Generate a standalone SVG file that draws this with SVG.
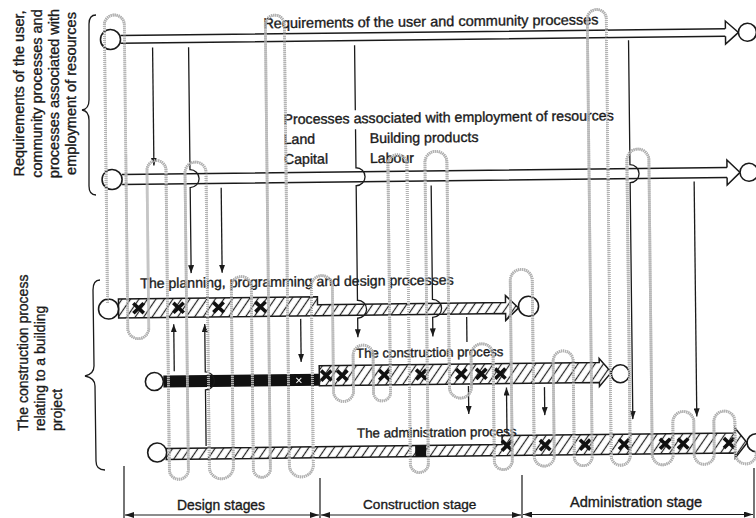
<svg xmlns="http://www.w3.org/2000/svg" width="756" height="518" viewBox="0 0 756 518">
<defs>
<style>
text{font-family:"Liberation Sans",Arial,sans-serif;fill:#1a1a1a;stroke:#1a1a1a;stroke-width:0.35}
.bar{stroke:#1a1a1a;stroke-width:1.5;fill:url(#hatch)}
.hol{stroke:#1a1a1a;stroke-width:1.5;fill:#fff}
.bl{stroke:#1a1a1a;stroke-width:1.5;fill:none}
.circ{stroke:#1a1a1a;stroke-width:1.6;fill:#fff}
.arr{stroke:#1a1a1a;stroke-width:1.3;fill:none}
.loopo{stroke:#b2b2b2;stroke-width:2.8;fill:none;stroke-dasharray:1.2 0.8}
.loopi{stroke:#ececec;stroke-width:0.9;fill:none}
.xm{stroke:#111;stroke-width:3.6;fill:none}
.dim{stroke:#1a1a1a;stroke-width:1.2;fill:none}
.brace{stroke:#1a1a1a;stroke-width:1.3;fill:none}
</style>
<pattern id="hatch" width="7" height="7" patternUnits="userSpaceOnUse" patternTransform="rotate(35)">
<rect width="7" height="7" fill="#fff"/>
<line x1="3.5" y1="0" x2="3.5" y2="7" stroke="#222" stroke-width="1.2"/>
</pattern>
<marker id="ah" markerWidth="8" markerHeight="6" refX="8" refY="3" orient="auto" markerUnits="userSpaceOnUse"><path d="M0,0 L8,3 L0,6 Z" fill="#1a1a1a"/></marker>
<marker id="dh" markerWidth="9" markerHeight="6" refX="9" refY="3" orient="auto-start-reverse" markerUnits="userSpaceOnUse"><path d="M0,0 L9,3 L0,6 Z" fill="#1a1a1a"/></marker>
<path id="xg" class="xm" d="M-5.2,-5 L5.2,5 M5.2,-5 L-5.2,5"/>
</defs>
<rect width="756" height="518" fill="#fff"/>

<g id="main" transform="rotate(-0.65 378 259)">
<g id="row-requirements">
<path class="bl" d="M123,32.7 H728 M123,40.3 H728"/>
<path class="hol" d="M728,32.7 V25 L741,36.5 L728,48 V40.3"/>
<circle class="circ" cx="113" cy="36.5" r="10"/>
<circle class="circ" cx="750" cy="36.5" r="9"/>
<text x="266" y="27" font-size="14.5">Requirements of the user and community processes</text>
</g>

<g id="row-resources">
<path class="bl" d="M123,171.5 H728 M123,181.5 H728"/>
<path class="hol" d="M728,171.5 V164 L741,176.5 L728,189 V181.5"/>
<circle class="circ" cx="113" cy="176.5" r="10"/>
<circle class="circ" cx="750" cy="176.5" r="9"/>
<text x="285" y="123" font-size="14.2">Processes associated with employment of resources</text>
<text x="285" y="143" font-size="14.2">Land</text>
<text x="371" y="143" font-size="14.2">Building products</text>
<text x="285" y="163" font-size="14.2">Capital</text>
<text x="371" y="163" font-size="14.2">Labour</text>
</g>

<g id="row-planning">
<path class="bar" d="M118,296 H317 V304 H505 V297 L518,309.5 L505,322 V315 H118 Z"/>
<use href="#xg" x="138" y="305.5"/>
<use href="#xg" x="178" y="305.5"/>
<use href="#xg" x="218" y="305.5"/>
<use href="#xg" x="260" y="305.5"/>
<circle class="circ" cx="108" cy="306" r="10"/>
<circle class="circ" cx="528" cy="308" r="10"/>
<text x="140" y="285.5" font-size="14.1">The planning, programming and design processes</text>
</g>

<g id="row-construction">
<rect x="162" y="373" width="156" height="12" fill="#111"/>
<path d="M295,377 L300,382 M300,377 L295,382" stroke="#fff" stroke-width="1"/>
<path class="bar" d="M318,365 H598 V361 L610,375 L598,389 V385 H318 Z"/>
<use href="#xg" x="325" y="375"/>
<use href="#xg" x="341" y="375"/>
<use href="#xg" x="383" y="375"/>
<use href="#xg" x="420" y="375"/>
<use href="#xg" x="460" y="375"/>
<use href="#xg" x="480" y="375"/>
<use href="#xg" x="499" y="375"/>
<circle class="circ" cx="153" cy="379" r="9"/>
<circle class="circ" cx="619" cy="376.5" r="9"/>
<text x="355" y="357.5" font-size="13.2">The construction process</text>
</g>

<g id="row-administration">
<path class="bar" d="M164,446 H500 V437 H733 V432 L745,447 L733,462 V457 H164 Z"/>
<rect x="413" y="446" width="11" height="11" fill="#111"/>
<use href="#xg" x="505" y="447"/>
<use href="#xg" x="543" y="447"/>
<use href="#xg" x="583" y="447"/>
<use href="#xg" x="622" y="447"/>
<use href="#xg" x="663" y="447"/>
<use href="#xg" x="681" y="447"/>
<use href="#xg" x="727" y="447"/>
<circle class="circ" cx="155" cy="450" r="9.5"/>
<circle class="circ" cx="754" cy="447" r="9"/>
<text x="355" y="437.5" font-size="13.3">The administration process</text>
</g>

<g id="connectors">
<path class="arr" marker-end="url(#ah)" d="M155,45 V163"/>
<path class="arr" marker-end="url(#ah)" d="M191,45 V167.5 A9,9 0 0 1 191,185.5 V271"/>
<path class="arr" marker-end="url(#ah)" d="M222,186 V271"/>
<path class="arr" marker-end="url(#ah)" d="M357,45 V110 M357,129 V167.5 A9,9 0 0 1 357,185.5 V300 A9,9 0 0 1 357,318 V337"/>
<path class="arr" marker-end="url(#ah)" d="M432,186 V300 A9,9 0 0 1 432,318 V337"/>
<path class="arr" marker-end="url(#ah)" d="M300,318 V361"/>
<path class="arr" d="M466,318 V343"/>
<path class="arr" marker-end="url(#ah)" d="M173,369 V322"/>
<path class="arr" marker-end="url(#ah)" d="M204,444 V388 A9,9 0 0 0 204,370 V322"/>
<path class="arr" marker-end="url(#ah)" d="M467,387 V415"/>
<path class="arr" marker-end="url(#ah)" d="M505,435 V389"/>
<path class="arr" marker-end="url(#ah)" d="M543,389 V417"/>
<path class="arr" marker-end="url(#ah)" d="M631,43 V167.5 A9,9 0 0 1 631,185.5 V422"/>
<path class="arr" marker-end="url(#ah)" d="M695,185 V420"/>
</g>

<g id="loops">
<path id="serp" class="loopo" d="M107,300 V22 A10,10 0 0 1 127,22 V325.5 A10.5,10.5 0 0 0 148,325.5 V167.5 A9.5,9.5 0 0 1 167,167.5 V467.5 A9.5,9.5 0 0 0 186,467.5 V170.5 A10.5,10.5 0 0 1 207,170.5 V465 A12,12 0 0 0 231,465 V285 A10,10 0 0 1 251,285 V467.5 A8.5,8.5 0 0 0 268,467.5 V23.5 A9.5,9.5 0 0 1 287,23.5 V464 A12,12 0 0 0 311,464 V285.5 A10.5,10.5 0 0 1 332,285.5 V391 A10,10 0 0 0 352,391 V355 A10,10 0 0 1 372,355 V392.5 A8.5,8.5 0 0 0 389,392.5 V164.5 A9.5,9.5 0 0 1 408,164.5 V464 A9,9 0 0 0 426,464 V163 A11,11 0 0 1 448,163 V388 A11,11 0 0 0 470,388 V356 A11,11 0 0 1 492,356 V462 A9,9 0 0 0 510,462 V282 A11,11 0 0 1 532,282 V458 A10,10 0 0 0 552,458 V363 A10,10 0 0 1 572,363 V459 A9,9 0 0 0 590,459 V21.5 A9.5,9.5 0 0 1 609,21.5 V458.5 A9.5,9.5 0 0 0 628,458.5 V163 A11,11 0 0 1 650,163 V457.5 A10.5,10.5 0 0 0 671,457.5 V425.5 A10.5,10.5 0 0 1 692,425.5 V458 A10,10 0 0 0 712,458 V425.5 A10.5,10.5 0 0 1 733,425.5 V457.5 A10.5,10.5 0 0 0 754,457.5 V455"/>
<use href="#serp" class="loopi" style="stroke:#ececec;stroke-width:0.9;stroke-dasharray:none"/>
</g>
</g>

<g id="label-left-top" font-size="14.5">
<text transform="translate(24,93.5) rotate(-90)" text-anchor="middle">Requirements of the user,</text>
<text transform="translate(41.5,93.5) rotate(-90)" text-anchor="middle">community processes and</text>
<text transform="translate(58.5,93.5) rotate(-90)" text-anchor="middle">processes associated with</text>
<text transform="translate(75.5,93.5) rotate(-90)" text-anchor="middle">employment of resources</text>
<path class="brace" d="M96,15 Q89,15 89,24 L89,100 Q89,109 82,110 Q89,111 89,120 L89,186 Q89,195 96,195"/>
</g>

<g id="label-left-bottom" font-size="14">
<text transform="translate(28,431) rotate(-90)">The construction process</text>
<text transform="translate(45,431) rotate(-90)">relating to a building</text>
<text transform="translate(62,431) rotate(-90)">project</text>
<path class="brace" d="M100,280 Q93,280 93,290 L94,366 Q94,374 85,376 Q95,378 95,386 L96,461 Q96,470 105,470"/>
</g>

<g id="stages">
<path class="dim" d="M124,466 V518 M320,478 V518 M522,475 V518 M754,468 V518"/>
<path class="dim" marker-start="url(#dh)" marker-end="url(#dh)" d="M125,515 H319"/>
<path class="dim" marker-start="url(#dh)" marker-end="url(#dh)" d="M321,515 H521"/>
<path class="dim" marker-start="url(#dh)" marker-end="url(#dh)" d="M523,514.5 H753"/>
<text x="177" y="510" font-size="13.9">Design stages</text>
<text x="363" y="509" font-size="13.6">Construction stage</text>
<text x="570" y="507" font-size="14.6">Administration stage</text>
</g>
</svg>
